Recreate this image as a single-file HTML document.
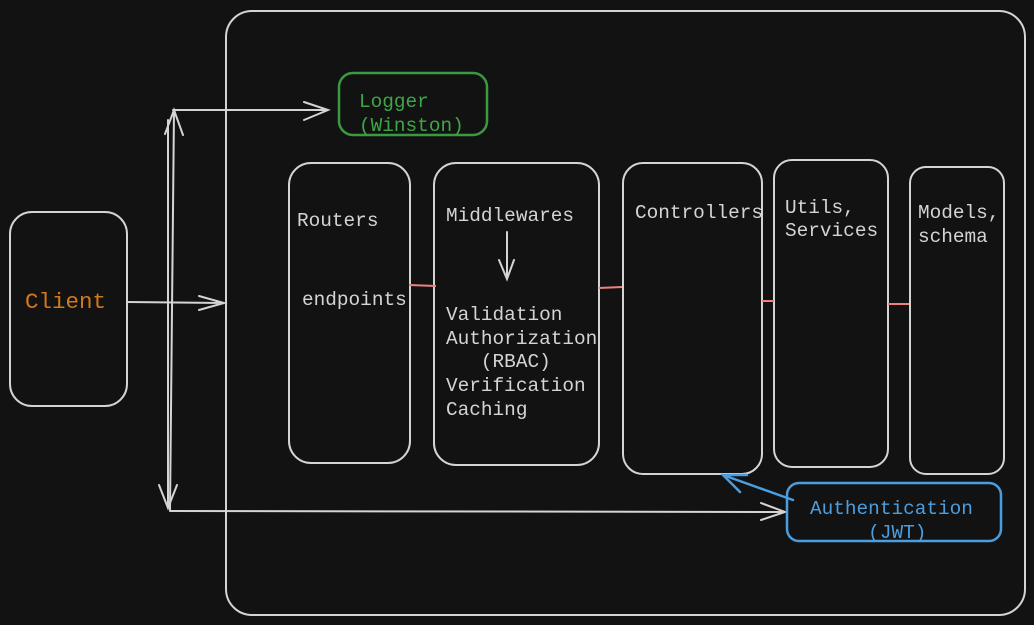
<!DOCTYPE html>
<html><head><meta charset="utf-8"><style>
html,body{margin:0;padding:0;background:#121212;}
svg{display:block}
text{font-family:"Liberation Mono",monospace;font-size:19.4px;fill:#d4d4d4;white-space:pre}
</style></head><body>
<svg width="1034" height="625" viewBox="0 0 1034 625" xmlns="http://www.w3.org/2000/svg" xml:space="preserve">
<rect width="1034" height="625" fill="#121212"/>
<g fill="none" stroke="#d4d4d4" stroke-width="2" stroke-linecap="round">
<rect x="226" y="11" width="799" height="604" rx="26"/>
<rect x="10" y="212" width="117" height="194" rx="22"/>
<rect x="289" y="163" width="121" height="300" rx="22"/>
<rect x="434" y="163" width="165" height="302" rx="22"/>
<rect x="623" y="163" width="139" height="311" rx="20"/>
<rect x="774" y="160" width="114" height="307" rx="18"/>
<rect x="910" y="167" width="94" height="307" rx="16"/>
<path d="M127 302 L224 303 M199 296 L224 303 L199 310"/>
<path d="M170 510 L174 110 M165 134 L174 110 L183 135"/>
<path d="M173 110 L328 110 M304 102 L328 110 L304 120"/>
<path d="M170 511 L785 512 M761 503 L785 512 L761 520"/>
<path d="M168 120 L168 508 M159 485 L168 508 L177 485"/>
<path d="M507 232 L507 279 M499 260 L507 279 L514 260"/>
</g>
<g stroke="#f08080" stroke-width="2">
<path d="M409 285 L436 286 M599 288 L622 287 M762 301 L774 301 M888 304 L909 304"/>
</g>
<rect x="339" y="73" width="148" height="62" rx="14" fill="none" stroke="#3a9a40" stroke-width="2.5"/>
<rect x="787" y="483" width="214" height="58" rx="12" fill="none" stroke="#4a9ee0" stroke-width="2.5"/>
<path d="M793 500 L723 475 M747 475 L723 475 L740 492" fill="none" stroke="#4a9ee0" stroke-width="2.5" stroke-linecap="round"/>
<text x="25" y="308" style="font-size:22.5px;fill:#d07a1c">Client</text>
<text x="359" y="107" style="fill:#3fa648">Logger</text>
<text x="359" y="131" style="fill:#3fa648">(Winston)</text>
<text x="297" y="226">Routers</text>
<text x="302" y="305">endpoints</text>
<text x="446" y="221">Middlewares</text>
<text x="446" y="320">Validation</text>
<text x="446" y="344">Authorization</text>
<text x="446" y="367">   (RBAC)</text>
<text x="446" y="391">Verification</text>
<text x="446" y="415">Caching</text>
<text x="635" y="218">Controllers</text>
<text x="785" y="213">Utils,</text>
<text x="785" y="236">Services</text>
<text x="918" y="218">Models,</text>
<text x="918" y="242">schema</text>
<text x="810" y="514" style="fill:#4a9ee0">Authentication</text>
<text x="810" y="538" style="fill:#4a9ee0">     (JWT)</text>
</svg>
</body></html>
